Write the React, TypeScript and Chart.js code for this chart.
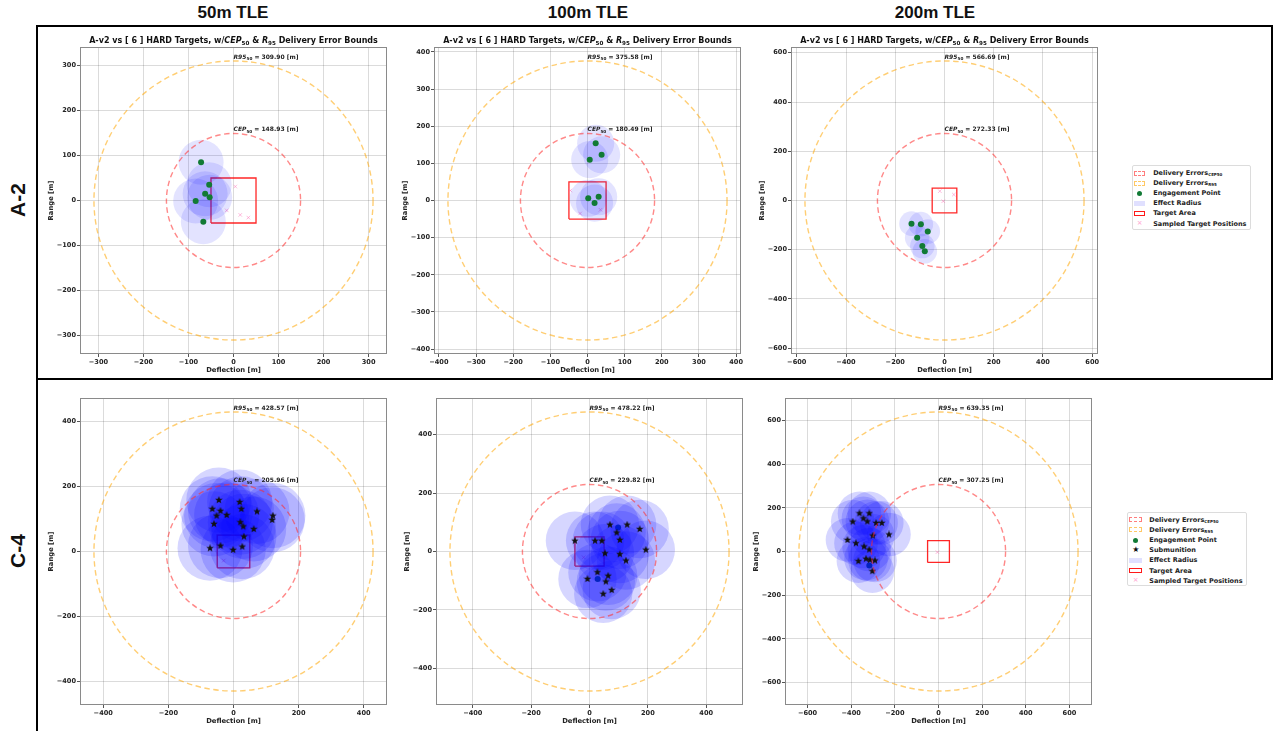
import React, { useEffect, useRef } from 'react';
import { Chart, registerables } from 'chart.js';
Chart.register(...registerables);

const FAMILY = "'DejaVu Sans', 'Noto Sans', sans-serif";

// ---------- data ----------
const COLUMN_TITLES = ['50m TLE', '100m TLE', '200m TLE'];
const ROW_LABELS = ['A-2', 'C-4'];
const CEP50 = [148.93, 180.49, 272.33, 205.96, 229.82, 307.25];
const R95 = [309.9, 375.58, 566.69, 428.57, 478.22, 639.35];
const EFFECT_RADIUS = [50, 50, 50, 100, 100, 100];

const TICKS_A2_50 = [-300, -200, -100, 0, 100, 200, 300];
const TICKS_A2_100 = [-400, -300, -200, -100, 0, 100, 200, 300, 400];
const TICKS_A2_200 = [-600, -400, -200, 0, 200, 400, 600];
const TICKS_C4_50 = [-400, -200, 0, 200, 400];
const TICKS_C4_100 = [-400, -200, 0, 200, 400];
const TICKS_C4_200 = [-600, -400, -200, 0, 200, 400, 600];
const TICKS = [TICKS_A2_50, TICKS_A2_100, TICKS_A2_200, TICKS_C4_50, TICKS_C4_100, TICKS_C4_200];

type P = { x: number; y: number };
const pts = (a: number[][]): P[] => a.map(([x, y]) => ({ x, y }));

const TARGET_AREA = pts([[-50, -50], [50, -50], [50, 50], [-50, 50], [-50, -50]]);

const ENGAGE_A2_50 = pts([[-72, 85], [-54, 35], [-63, 15], [-53, 7], [-84, -1], [-67, -47]]);
const ENGAGE_A2_100 = pts([[22, 154], [38, 123], [6, 110], [2, 6], [30, 10], [19, -7]]);
const ENGAGE_A2_200 = pts([[-134, -94], [-96, -96], [-68, -126], [-111, -151], [-90, -185], [-80, -206]]);
const ENGAGE_C4_50 = pts([]);
const ENGAGE_C4_100 = pts([[28, -94], [98, 82]]);
const ENGAGE_C4_200 = pts([[-317, -64]]);

const SUB_C4_50 = pts([
  [-45, 158], [19, 152], [-65, 131], [-40, 125], [-52, 110], [-21, 112], [24, 131], [72, 123],
  [121, 110], [119, 97], [-60, 85], [21, 90], [30, 77], [62, 69], [32, 46], [-72, 10], [-40, 18],
  [-1, 5], [27, 15],
]);
const SUB_C4_100 = pts([
  [70, 92], [129, 92], [172, 77], [93, 65], [104, 40], [-50, 37], [19, 37], [42, 37], [193, 6],
  [53, -6], [104, -9], [125, -31], [-7, -94], [27, -71], [64, -83], [56, -103], [76, -132], [47, -145],
]);
const SUB_C4_200 = pts([
  [-362, 175], [-317, 175], [-393, 137], [-344, 152], [-326, 138], [-286, 131], [-260, 131],
  [-227, 78], [-301, 73], [-417, 53], [-378, 38], [-341, 23], [-317, 9], [-367, -44], [-314, -38],
  [-291, -41], [-332, -33], [-303, -90],
]);

const SAMPLED_A2_50 = pts([[4, 31], [15, -32], [33, -38], [-15, -22]]);
const SAMPLED_A2_100 = pts([[-46, 27], [-20, -35], [35, -25]]);
const SAMPLED_A2_200 = pts([[-19, 38], [38, 24], [-5, -3]]);
const SAMPLED_C4_50 = pts([[-30, -28]]);
const SAMPLED_C4_100 = pts([[-20, -20]]);
const SAMPLED_C4_200 = pts([[-5, -3]]);

const ENGAGE = [ENGAGE_A2_50, ENGAGE_A2_100, ENGAGE_A2_200, ENGAGE_C4_50, ENGAGE_C4_100, ENGAGE_C4_200];
const SUBS = [[], [], [], SUB_C4_50, SUB_C4_100, SUB_C4_200] as P[][];
const SAMPLED = [SAMPLED_A2_50, SAMPLED_A2_100, SAMPLED_A2_200, SAMPLED_C4_50, SAMPLED_C4_100, SAMPLED_C4_200];
const EFFECT_CENTERS = [ENGAGE_A2_50, ENGAGE_A2_100, ENGAGE_A2_200, SUB_C4_50, SUB_C4_100, SUB_C4_200];

// ---------- layout ----------
const PANEL_CENTER = [[233.3, 200], [587, 200], [944, 200], [233, 551], [589.5, 551], [938.7, 551]];
const PLOT = 307;
const YW = 33;
const XH = 20;
const PT = 20;
const PR = 14;

type Seg = { t: string; it?: boolean; sub?: boolean };
function drawRich(ctx: CanvasRenderingContext2D, segs: Seg[], x: number, y: number, size: number, align: 'left' | 'center') {
  const f = (s: Seg) => `${s.it ? 'italic ' : ''}bold ${s.sub ? size * 0.7 : size}px ${FAMILY}`;
  let total = 0;
  for (const s of segs) { ctx.font = f(s); total += ctx.measureText(s.t).width; }
  let cx = align === 'center' ? x - total / 2 : x;
  ctx.textAlign = 'left';
  ctx.textBaseline = 'alphabetic';
  for (const s of segs) {
    ctx.font = f(s);
    ctx.fillText(s.t, cx, s.sub ? y + size * 0.25 : y);
    cx += ctx.measureText(s.t).width;
  }
}

const overlayPlugin = {
  id: 'overlay',
  afterDatasetsDraw(chart: any, _a: any, opts: any) {
    const { ctx, chartArea: ca, scales } = chart;
    const xs = scales.x, ys = scales.y;
    const cx = xs.getPixelForValue(0), cy = ys.getPixelForValue(0);
    ctx.save();
    ctx.beginPath();
    ctx.rect(ca.left, ca.top, ca.right - ca.left, ca.bottom - ca.top);
    ctx.clip();
    const circles = [
      { r: opts.r95, color: 'rgba(255,165,0,0.55)' },
      { r: opts.cep, color: 'rgba(255,40,40,0.55)' },
    ];
    for (const c of circles) {
      const rp = xs.getPixelForValue(c.r) - cx;
      ctx.beginPath();
      ctx.setLineDash([5.5, 3.5]);
      ctx.lineWidth = 1.4;
      ctx.strokeStyle = c.color;
      ctx.arc(cx, cy, rp, 0, Math.PI * 2);
      ctx.stroke();
    }
    ctx.setLineDash([]);
    ctx.fillStyle = '#222';
    drawRich(ctx, [{ t: 'R95', it: true }, { t: '50', sub: true }, { t: ` = ${opts.r95.toFixed(2)} [m]` }],
      cx, ys.getPixelForValue(opts.r95) - 2, 6, 'left');
    drawRich(ctx, [{ t: 'CEP', it: true }, { t: '50', sub: true }, { t: ` = ${opts.cep.toFixed(2)} [m]` }],
      cx, ys.getPixelForValue(opts.cep) - 2, 6, 'left');
    ctx.restore();
  },
  afterDraw(chart: any, _a: any, opts: any) {
    const { ctx, chartArea: ca } = chart;
    ctx.save();
    ctx.strokeStyle = '#8a8a8a';
    ctx.lineWidth = 1;
    ctx.strokeRect(Math.round(ca.left) + 0.5, Math.round(ca.top) + 0.5, Math.round(ca.right - ca.left) - 1, Math.round(ca.bottom - ca.top) - 1);
    if (opts.title) {
      ctx.fillStyle = '#111';
      drawRich(ctx, [
        { t: 'A-v2 vs [ 6 ] HARD Targets, w/' }, { t: 'CEP', it: true }, { t: '50', sub: true },
        { t: ' & ' }, { t: 'R', it: true }, { t: '95', sub: true }, { t: ' Delivery Error Bounds' },
      ], (ca.left + ca.right) / 2, ca.top - 4, 8, 'center');
    }
    ctx.restore();
  },
};

function makeStar(size: number) {
  const c = document.createElement('canvas');
  c.width = size; c.height = size;
  const g = c.getContext('2d')!;
  const R = size / 2, r = R * 0.42;
  g.beginPath();
  for (let i = 0; i < 10; i++) {
    const a = -Math.PI / 2 + (i * Math.PI) / 5;
    const rr = i % 2 === 0 ? R : r;
    g.lineTo(R + rr * Math.cos(a), R + rr * Math.sin(a));
  }
  g.closePath();
  g.fillStyle = '#111';
  g.fill();
  return c;
}

const tickFont = { family: FAMILY, size: 6.6, weight: 'bold' as const };

function Panel({ idx }: { idx: number }) {
  const ref = useRef<HTMLCanvasElement>(null);
  const [pcx, pcy] = PANEL_CENTER[idx];
  const W = YW + PLOT + PR, H = PT + PLOT + XH;
  const left = pcx - PLOT / 2 - YW, top = pcy - PLOT / 2 - PT;
  useEffect(() => {
    const lim = R95[idx] * 1.1;
    const er = EFFECT_RADIUS[idx];
    const topRow = idx < 3;
    const star = makeStar(8);
    const radiusFn = (c: any) => {
      const s = c.chart.scales.x;
      return Math.abs(s.getPixelForValue(er) - s.getPixelForValue(0));
    };
    const axis = (title: string, isX: boolean) => ({
      type: 'linear' as const,
      position: isX ? ('bottom' as const) : ('left' as const),
      min: -lim,
      max: lim,
      afterFit: (s: any) => { if (isX) s.height = XH; else s.width = YW; },
      afterBuildTicks: (s: any) => { s.ticks = TICKS[idx].map((v) => ({ value: v })); },
      ticks: {
        autoSkip: false,
        maxRotation: 0,
        padding: 1,
        color: '#222',
        font: tickFont,
        callback: (v: any) => (Number(v) < 0 ? '\u2212' + Math.abs(Number(v)) : String(v)),
      },
      grid: { color: 'rgba(0,0,0,0.14)', lineWidth: 1, tickLength: 3, tickColor: '#555', drawTicks: true },
      border: { display: false },
      title: { display: true, text: title, color: '#222', font: { ...tickFont, size: 6.8 }, padding: 0 },
    });
    const chart = new Chart(ref.current!, {
      type: 'scatter',
      data: {
        datasets: [
          { label: 'Submunition', data: SUBS[idx], pointStyle: star as any, pointRadius: 4, order: 0 },
          {
            label: 'Effect Radius', data: EFFECT_CENTERS[idx], pointRadius: radiusFn as any, pointHoverRadius: radiusFn as any,
            backgroundColor: topRow ? 'rgba(0,0,255,0.11)' : 'rgba(0,0,255,0.16)', borderWidth: 0, order: topRow ? 2 : 1,
          },
          {
            label: 'Engagement Point', data: ENGAGE[idx], pointRadius: 3, backgroundColor: '#117a35',
            borderColor: '#117a35', borderWidth: 0, order: topRow ? 1 : 2,
          },
          {
            label: 'Sampled Target Positions', data: SAMPLED[idx], pointStyle: 'crossRot', pointRadius: 2.5,
            borderColor: 'rgba(255,105,180,0.45)', borderWidth: 1, order: 3,
          },
          {
            label: 'Target Area', data: TARGET_AREA, showLine: true, pointRadius: 0, borderColor: 'rgba(255,0,0,0.85)',
            borderWidth: 1.3, fill: false, order: 4,
          } as any,
        ],
      },
      options: {
        animation: false,
        responsive: false,
        maintainAspectRatio: false,
        devicePixelRatio: 1,
        events: [],
        layout: { padding: { top: PT, right: PR, left: 0, bottom: 0 } },
        scales: { x: axis('Deflection [m]', true), y: axis('Range [m]', false) } as any,
        plugins: {
          legend: { display: false },
          tooltip: { enabled: false },
          overlay: { r95: R95[idx], cep: CEP50[idx], title: topRow },
        } as any,
      },
      plugins: [overlayPlugin],
    });
    return () => chart.destroy();
  }, [idx]);
  return (
    <canvas ref={ref} width={W} height={H}
      style={{ position: 'absolute', left, top, width: W, height: H }} />
  );
}

type LegendKey = 'cep' | 'r95' | 'engage' | 'sub' | 'effect' | 'target' | 'sampled';
const LEGEND_A2: LegendKey[] = ['cep', 'r95', 'engage', 'effect', 'target', 'sampled'];
const LEGEND_C4: LegendKey[] = ['cep', 'r95', 'engage', 'sub', 'effect', 'target', 'sampled'];

function LegendIcon({ k, w }: { k: LegendKey; w: number }) {
  const box: React.CSSProperties = { width: w, height: 5, boxSizing: 'border-box' };
  if (k === 'cep') return <span style={{ ...box, border: '1.2px dashed rgba(255,40,40,0.6)' }} />;
  if (k === 'r95') return <span style={{ ...box, border: '1.2px dashed rgba(255,165,0,0.6)' }} />;
  if (k === 'effect') return <span style={{ ...box, background: 'rgba(0,0,255,0.12)' }} />;
  if (k === 'target') return <span style={{ ...box, border: '1.3px solid rgba(255,0,0,0.9)' }} />;
  if (k === 'engage') return <span style={{ width: 5, height: 5, borderRadius: '50%', background: '#117a35' }} />;
  if (k === 'sub') return <span style={{ fontSize: 8, lineHeight: '8px', color: '#111' }}>★</span>;
  return <span style={{ fontSize: 7, lineHeight: '7px', color: 'rgba(255,105,180,0.5)' }}>×</span>;
}

function LegendLabel({ k }: { k: LegendKey }) {
  const sub: React.CSSProperties = { fontSize: 4, verticalAlign: '-1px' };
  if (k === 'cep') return <span>Delivery Errors<span style={sub}>CEP50</span></span>;
  if (k === 'r95') return <span>Delivery Errors<span style={sub}>R95</span></span>;
  const m: Record<string, string> = {
    engage: 'Engagement Point', sub: 'Submunition', effect: 'Effect Radius',
    target: 'Target Area', sampled: 'Sampled Target Positions',
  };
  return <span>{m[k]}</span>;
}

function Legend({ keys, left, top, width, height, rowH, iconX, iconW, textX }: {
  keys: LegendKey[]; left: number; top: number; width: number; height: number; rowH: number;
  iconX: number; iconW: number; textX: number;
}) {
  return (
    <div style={{
      position: 'absolute', left, top, width, height, boxSizing: 'border-box', border: '1px solid #dcdcdc',
      borderRadius: 2, background: '#fff', fontFamily: FAMILY, fontWeight: 'bold', fontSize: 6.5, color: '#222',
    }}>
      {keys.map((k, i) => (
        <div key={k} style={{ position: 'absolute', left: 0, top: 2 + i * rowH, height: rowH, width: '100%' }}>
          <div style={{ position: 'absolute', left: iconX, top: 0, width: iconW, height: rowH, display: 'flex', alignItems: 'center', justifyContent: 'center' }}>
            <LegendIcon k={k} w={iconW} />
          </div>
          <div style={{ position: 'absolute', left: textX, top: 0, height: rowH, lineHeight: rowH + 'px', whiteSpace: 'nowrap' }}>
            <LegendLabel k={k} />
          </div>
        </div>
      ))}
    </div>
  );
}

export default function App() {
  const headerX = [233, 588, 935];
  const rowY = [200, 551];
  return (
    <div style={{ position: 'absolute', left: 0, top: 0, width: 1273, height: 731, background: '#fff', overflow: 'hidden' }}>
      {COLUMN_TITLES.map((t, i) => (
        <div key={t} style={{
          position: 'absolute', left: headerX[i] - 100, top: 2, width: 200, textAlign: 'center',
          fontFamily: "'Liberation Sans', Arial, sans-serif", fontWeight: 'bold', fontSize: 17, lineHeight: '22px', color: '#111',
        }}>{t}</div>
      ))}
      {ROW_LABELS.map((t, i) => (
        <div key={t} style={{
          position: 'absolute', left: 18 - 40, top: rowY[i] - 13, width: 80, height: 26, textAlign: 'center',
          transform: 'rotate(-90deg)', fontFamily: "'Liberation Sans', Arial, sans-serif", fontWeight: 'bold',
          fontSize: 21, lineHeight: '26px', color: '#111',
        }}>{t}</div>
      ))}
      <div style={{ position: 'absolute', left: 36, top: 25, width: 1237, height: 2, background: '#000' }} />
      <div style={{ position: 'absolute', left: 36, top: 378, width: 1237, height: 2, background: '#000' }} />
      <div style={{ position: 'absolute', left: 36, top: 25, width: 2, height: 706, background: '#000' }} />
      <div style={{ position: 'absolute', left: 1271, top: 25, width: 2, height: 355, background: '#000' }} />
      {[0, 1, 2, 3, 4, 5].map((i) => <Panel key={i} idx={i} />)}
      <Legend keys={LEGEND_A2} left={1131.7} top={165} width={119} height={65} rowH={10.1} iconX={1.5} iconW={11} textX={20.5} />
      <Legend keys={LEGEND_C4} left={1127.3} top={511.7} width={119.4} height={74} rowH={10.2} iconX={1} iconW={13} textX={21} />
    </div>
  );
}
